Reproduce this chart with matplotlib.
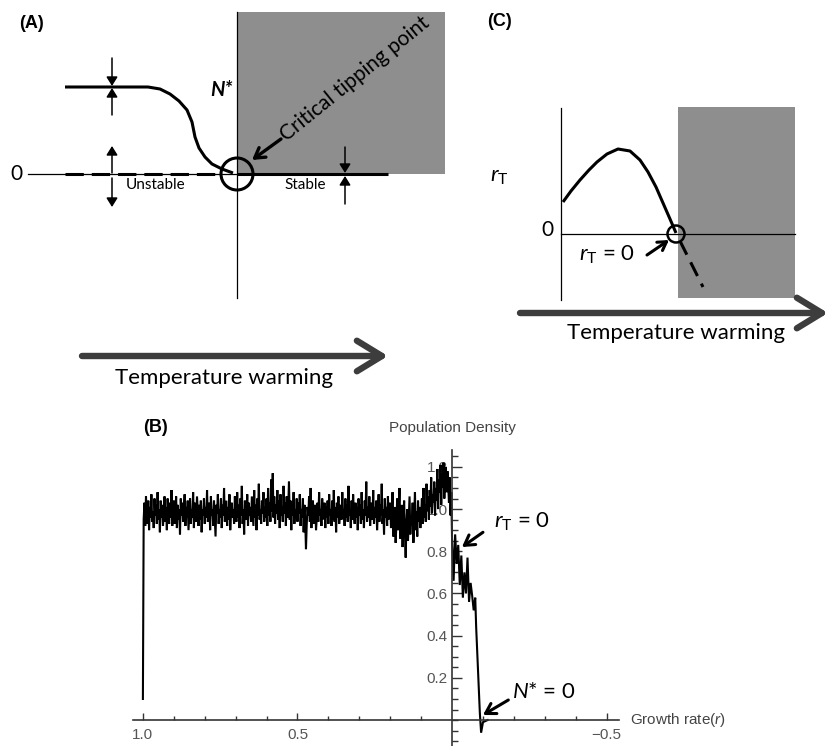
import numpy as np
import matplotlib
matplotlib.use('Agg')
import matplotlib.pyplot as plt
from matplotlib.patches import Rectangle, Circle
from matplotlib.ticker import FixedLocator, MultipleLocator

plt.rcParams['mathtext.fontset'] = 'custom'
plt.rcParams['mathtext.rm'] = 'Lato'
plt.rcParams['mathtext.it'] = 'Lato:italic'
plt.rcParams['mathtext.bf'] = 'Lato:bold'

# ---------------- data ----------------
# (B) simulated population density vs growth rate r (r from 1.0 down to 0.0025, step 0.0025)
r_noise = np.arange(1.0, 0.0, -0.0025)
dens_noise = [
    0.10, 0.95, 1.03, 0.92, 1.06, 0.97, 0.93, 1.04, 0.90, 1.01, 0.96, 1.07, 0.94, 0.99, 0.91, 1.05, 0.97, 1.02, 0.93, 1.08,
    0.95, 1.00, 0.89, 1.04, 0.96, 1.02, 0.92, 0.98, 1.06, 0.94, 1.01, 0.90, 1.05, 0.97, 0.93, 1.03, 0.96, 1.09, 0.92, 0.99,
    1.04, 0.93, 0.98, 1.06, 0.91, 1.02, 0.95, 1.00, 0.88, 1.05, 0.97, 1.03, 0.94, 0.99, 1.07, 0.92, 1.01, 0.96, 1.04, 0.90,
    0.98, 1.05, 0.93, 1.00, 0.96, 1.08, 0.91, 1.03, 0.97, 0.94, 1.06, 0.99, 0.92, 1.02, 0.95, 1.04, 0.89, 1.00, 0.97, 1.05,
    0.93, 1.01, 0.96, 1.09, 0.94, 0.99, 1.03, 0.90, 1.06, 0.97, 1.00, 0.92, 1.04, 0.95, 0.87, 1.02, 0.98, 1.07, 0.93, 1.00,
    0.96, 1.05, 0.91, 1.02, 0.97, 1.10, 0.94, 0.99, 1.04, 0.92, 1.01, 0.95, 1.07, 0.90, 0.98, 1.03, 0.96, 1.00, 0.93, 1.06,
    0.99, 0.94, 1.08, 0.96, 1.02, 0.91, 1.05, 0.97, 1.11, 0.93, 1.00, 0.88, 1.04, 0.98, 0.95, 1.07, 0.92, 1.03, 0.97, 1.01,
    0.94, 1.06, 0.99, 0.92, 1.09, 0.96, 1.02, 0.90, 1.05, 0.97, 1.12, 0.95, 1.00, 0.93, 1.04, 0.98, 1.08, 0.94, 1.01, 0.96,
    1.05, 0.92, 1.10, 0.97, 1.03, 0.94, 1.14, 0.99, 1.17, 0.96, 1.06, 0.93, 1.02, 0.98, 1.09, 0.95, 1.04, 0.91, 1.07, 0.97,
    1.01, 0.94, 1.11, 0.98, 1.03, 0.92, 1.06, 0.96, 1.00, 1.13, 0.95, 1.04, 0.90, 1.02, 0.97, 1.08, 0.93, 1.00, 0.96, 1.05,
    0.94, 1.03, 0.98, 1.07, 0.92, 1.00, 0.96, 1.05, 0.89, 1.02, 0.95, 0.81, 0.93, 1.01, 0.97, 1.06, 0.94, 1.10, 0.91, 0.99,
    1.04, 0.93, 0.97, 1.02, 0.90, 0.96, 1.03, 0.94, 1.08, 0.97, 1.00, 0.92, 1.05, 0.95, 0.99, 1.03, 0.91, 1.01, 0.96, 1.04,
    0.93, 1.07, 0.97, 1.00, 0.92, 1.04, 0.95, 1.09, 0.94, 1.01, 0.89, 1.03, 0.96, 1.06, 0.93, 0.99, 1.02, 0.95, 1.08, 0.97,
    1.00, 0.92, 1.05, 0.96, 1.02, 0.94, 1.11, 0.97, 1.00, 0.91, 1.04, 0.95, 1.07, 0.98, 0.93, 1.03, 0.96, 1.01, 0.90, 1.05,
    0.97, 1.02, 0.93, 1.08, 0.95, 1.00, 0.91, 1.04, 0.97, 1.13, 0.94, 1.01, 0.96, 1.06, 0.92, 0.99, 1.03, 0.95, 1.09, 0.93,
    1.01, 0.96, 1.04, 0.90, 0.98, 1.07, 0.94, 1.02, 0.97, 1.12, 0.93, 1.00, 0.88, 1.05, 0.96, 1.01, 0.92, 1.06, 0.95, 0.99,
    1.03, 0.91, 0.97, 1.08, 0.87, 0.95, 1.01, 0.84, 0.93, 1.05, 0.90, 0.98, 1.10, 0.86, 0.94, 1.02, 0.82, 0.96, 1.04, 0.89,
    0.77, 0.93, 1.00, 0.85, 0.95, 1.06, 0.88, 0.97, 0.92, 1.03, 0.84, 0.96, 1.08, 0.90, 0.99, 0.87, 1.04, 0.94, 1.01, 0.91,
    0.97, 1.05, 0.93, 1.10, 0.96, 1.02, 0.94, 1.12, 0.99, 1.06, 0.95, 1.09, 1.01, 1.15, 0.98, 1.07, 1.03, 1.13, 0.97, 1.10,
    1.04, 1.19, 1.00, 1.14, 1.08, 1.21, 1.02, 1.17, 1.10, 1.22, 1.05, 1.16, 1.20, 1.08, 1.18, 1.12, 1.03, 1.15, 0.97, 1.08,
]
r_tail = [0.0, -0.005, -0.01, -0.015, -0.02, -0.025, -0.03, -0.035, -0.04, -0.045, -0.05,
          -0.055, -0.06, -0.065, -0.07, -0.075, -0.078, -0.09, -0.094, -0.1, -0.115]
dens_tail = [0.86, 0.66, 0.88, 0.74, 0.83, 0.64, 0.78, 0.58, 0.70, 0.60, 0.77,
             0.56, 0.65, 0.59, 0.52, 0.58, 0.44, 0.03, -0.06, -0.01, 0.0]
b_xticks = [1.0, 0.5, -0.5]
b_xticklabels = ['1.0', '0.5', '\u22120.5']
b_yticks = [0.2, 0.4, 0.6, 0.8, 1.0, 1.2]

# (A) schematic, pixel coordinates of the figure (y downwards)
a_eq_x = [65, 148, 160, 170, 179, 187, 192, 195, 199, 205, 212, 222, 233]
a_eq_y = [87, 87, 89, 94, 101, 110, 122, 137, 148, 157, 164, 169, 173]

# (C) schematic r_T curve
c_r_x = [563, 571, 580, 589, 597, 607, 618, 630, 640, 648, 656, 663, 670, 676]
c_r_y = [202, 191, 180, 170, 162, 154, 149, 151, 160, 172, 187, 203, 219, 233]

W, H = 831, 746
fig = plt.figure(figsize=(W / 100, H / 100), dpi=100)

# ---------------- panel B ----------------
axb = fig.add_axes([133 / W, 0, 486 / W, 296 / H])
axb.set_facecolor('none')
r_all = list(r_noise) + r_tail
d_all = dens_noise + dens_tail
axb.plot(r_all, d_all, color='black', lw=1.5, solid_joinstyle='miter')
axb.set_xlim(1.032, -0.54)
axb.set_ylim(-0.123, 1.28)
for s in ['top', 'right']:
    axb.spines[s].set_visible(False)
axb.spines['left'].set_position(('data', 0))
axb.spines['bottom'].set_position(('data', 0))
for s in ['left', 'bottom']:
    axb.spines[s].set_color('#333333')
    axb.spines[s].set_linewidth(1.2)
axb.xaxis.set_major_locator(FixedLocator(b_xticks))
axb.set_xticklabels(b_xticklabels)
axb.xaxis.set_minor_locator(FixedLocator([0.9, 0.8, 0.7, 0.6, 0.4, 0.3, 0.2, 0.1, -0.1, -0.2, -0.3, -0.4]))
axb.yaxis.set_major_locator(FixedLocator(b_yticks))
axb.yaxis.set_minor_locator(MultipleLocator(0.05))
axb.tick_params(axis='x', which='major', direction='in', length=5, width=1, colors='#333333',
                labelcolor='#555555', labelsize=11, pad=6)
axb.tick_params(axis='x', which='minor', direction='in', length=3, width=1, colors='#333333')
axb.tick_params(axis='y', which='major', direction='in', length=7, width=1, colors='#333333',
                labelcolor='#555555', labelsize=11, pad=3)
axb.tick_params(axis='y', which='minor', direction='in', length=4, width=1, colors='#333333')
for lab in axb.get_xticklabels() + axb.get_yticklabels():
    lab.set_family('Liberation Sans')
axb.text(0, 1.385, 'Population Density', ha='center', va='center', fontsize=11,
         color='#444444', family='Liberation Sans', clip_on=False)
axb.text(-0.576, 0, 'Growth rate($r$)', ha='left', va='center', fontsize=11,
         color='#444444', family='Liberation Sans', clip_on=False)
axb.text(-0.137, 0.94, r'$r_{\mathrm{T}}$ = 0', ha='left', va='center', fontsize=16, family='Lato')
axb.annotate('', xy=(-0.032, 0.82), xytext=(-0.10, 0.89),
             arrowprops=dict(arrowstyle='->,head_length=0.5,head_width=0.3', lw=2.2, color='black',
                             shrinkA=0, shrinkB=0, mutation_scale=14))
axb.text(-0.194, 0.135, r'$N$* = 0', ha='left', va='center', fontsize=16, family='Lato')
axb.annotate('', xy=(-0.10, 0.024), xytext=(-0.182, 0.095),
             arrowprops=dict(arrowstyle='->,head_length=0.5,head_width=0.3', lw=2.2, color='black',
                             shrinkA=0, shrinkB=0, mutation_scale=14))

# ---------------- overlay for A and C ----------------
ov = fig.add_axes([0, 0, 1, 1])
ov.set_xlim(0, W)
ov.set_ylim(H, 0)
ov.axis('off')
gray = '#8e8e8e'
txt = dict(family='Lato', color='black')

# panel A
ov.add_patch(Rectangle((237, 12), 445 - 237, 174 - 12, facecolor=gray, edgecolor='none', zorder=1))
ov.plot([237, 237], [12, 298], color='black', lw=0.9, zorder=2)
ov.plot([28, 237], [174, 174], color='black', lw=0.9, zorder=2)
ov.plot([237, 388], [174, 174], color='black', lw=2.2, zorder=3, solid_capstyle='butt')
ov.plot([65, 222], [174, 174], color='black', lw=2.2, dashes=(6, 2.6), zorder=3)
ov.plot(a_eq_x, a_eq_y, color='black', lw=2.2, zorder=3, solid_capstyle='butt')
ov.add_patch(Circle((237, 174), 16, facecolor='none', edgecolor='black', lw=2.2, zorder=4))

small = dict(arrowstyle='-|>,head_length=0.45,head_width=0.28', lw=1.1, color='black',
             shrinkA=0, shrinkB=0, mutation_scale=12)
for (x, y0, y1) in [(112, 58, 86), (112, 115, 88), (112, 173, 146), (112, 178, 207),
                    (345, 147, 173), (345, 204, 176)]:
    ov.annotate('', xy=(x, y1), xytext=(x, y0), arrowprops=small, zorder=5)

ov.text(16, 174, '0', ha='center', va='center', fontsize=15, **txt)
ov.text(221, 90, 'N*', ha='center', va='center', fontsize=14.5, style='italic', fontweight='bold',
        family='Lato')
ov.text(156, 185, 'Unstable', ha='center', va='center', fontsize=11, **txt)
ov.text(305, 185, 'Stable', ha='center', va='center', fontsize=11, **txt)
ov.text(283, 137, 'Critical tipping point', ha='left', va='center', fontsize=15,
        rotation=39, rotation_mode='anchor', **txt)
ov.annotate('', xy=(252, 160), xytext=(281, 139),
            arrowprops=dict(arrowstyle='->,head_length=0.5,head_width=0.3', lw=2.4, color='black',
                            shrinkA=0, shrinkB=0, mutation_scale=14))
ov.text(32, 24, '(A)', ha='center', va='center', fontsize=13, fontweight='bold', family='Liberation Sans')

big = dict(arrowstyle='->,head_length=0.9,head_width=0.55', lw=4.6, color='#3d3d3d',
           shrinkA=0, shrinkB=0, mutation_scale=20)
ov.annotate('', xy=(388, 356), xytext=(82, 356), arrowprops=big)
ov.text(224, 378, 'Temperature warming', ha='center', va='center', fontsize=16, **txt)

# panel C
ov.add_patch(Rectangle((678, 107), 795 - 678, 298 - 107, facecolor=gray, edgecolor='none', zorder=1))
ov.plot([561, 561], [108, 300], color='black', lw=0.9, zorder=2)
ov.plot([561, 795], [234, 234], color='black', lw=0.9, zorder=2)
ov.plot(c_r_x, c_r_y, color='black', lw=2.2, zorder=3, solid_capstyle='butt')
ov.plot([680, 703], [241, 287], color='black', lw=2.2, dashes=(5, 2.8), zorder=3)
ov.add_patch(Circle((676, 234), 8.5, facecolor='none', edgecolor='black', lw=1.8, zorder=4))
ov.text(547, 230, '0', ha='center', va='center', fontsize=15, **txt)
ov.text(499, 177, r'$r_{\mathrm{T}}$', ha='center', va='center', fontsize=16, family='Lato')
ov.text(607, 255, r'$r_{\mathrm{T}}$ = 0', ha='center', va='center', fontsize=16, family='Lato')
ov.annotate('', xy=(669, 240), xytext=(647, 255),
            arrowprops=dict(arrowstyle='->,head_length=0.5,head_width=0.3', lw=2.2, color='black',
                            shrinkA=0, shrinkB=0, mutation_scale=12))
ov.text(499, 22, '(C)', ha='center', va='center', fontsize=13, fontweight='bold', family='Liberation Sans')
ov.annotate('', xy=(828, 313), xytext=(520, 313), arrowprops=big)
ov.text(676, 333, 'Temperature warming', ha='center', va='center', fontsize=16, **txt)

ov.text(156, 427, '(B)', ha='center', va='center', fontsize=13, fontweight='bold', family='Liberation Sans')

fig.savefig('out.png', dpi=100)
